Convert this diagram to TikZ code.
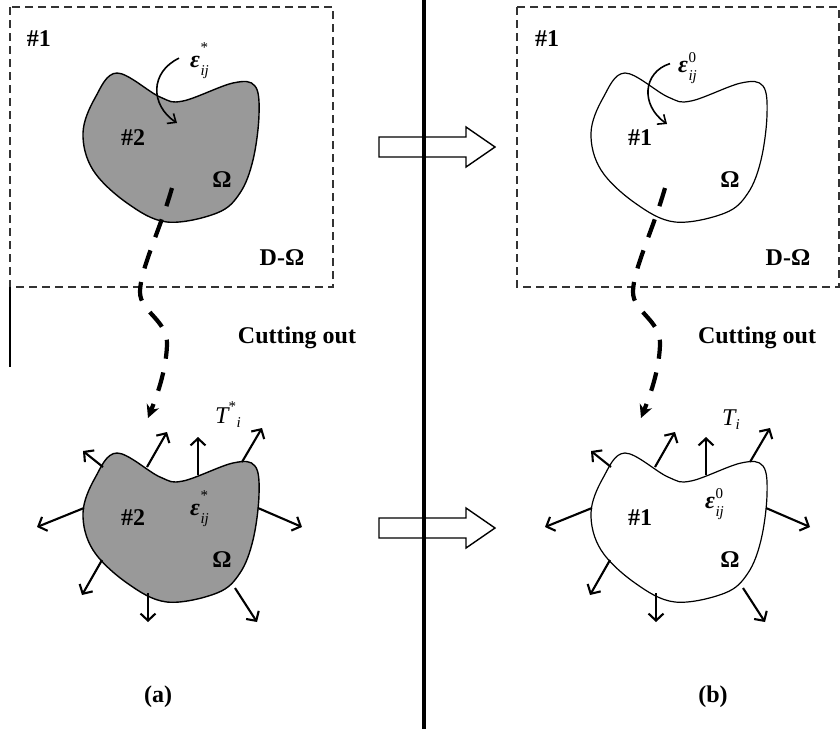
\documentclass[tikz,border=0pt]{standalone}
\usepackage{fontspec}
\setmainfont{Liberation Serif}
\usetikzlibrary{arrows.meta}

% strain symbol: bold italic epsilon with index ij and a raised mark
\newcommand\strain[2]{\textit{ε}\hspace{0.5pt}\rlap{\raisebox{#2}{\fontsize{15}{15}\selectfont\mdseries #1}}\raisebox{-8pt}{\fontsize{15}{15}\selectfont\mdseries\itshape ij}}

\tikzset{
  pics/blob/.style={code={
    \path[pic actions] plot[smooth cycle, tension=0.6] coordinates
      {(117,73) (160,97) (183,101) (233,83) (255,86) (259,115) (253,160)
       (240,193) (217,213) (167,222) (127,203) (93,170) (83,133) (95,98)};
  }}
}

\begin{document}
\begin{tikzpicture}[x=1pt,y=-1pt,
  every node/.style={inner sep=0pt, font=\fontsize{24}{28}\selectfont\bfseries},
  domainbox/.style={draw=black!80, line width=1.5pt, dash pattern=on 8pt off 5pt},
  inclusion/.style={draw=black, line width=1.4pt, fill=black!40},
  matrixregion/.style={draw=black, line width=1.2pt},
  cutpath/.style={line width=4.2pt, dash pattern=on 19pt off 14pt,
                  -{Stealth[length=13pt,width=13pt]}},
  traction/.style={line width=2.1pt, -{Straight Barb[length=7pt,width=15pt]}},
  eigenarrow/.style={line width=1.6pt, -{Straight Barb[length=7pt,width=12pt]}},
  bigarrow/.style={draw=black, line width=1.4pt, line join=miter},
  divider/.style={line width=3.4pt}
]
\useasboundingbox (0,0) rectangle (840,729);

% ---------- (a): inclusion with eigenstrain ----------
\draw[domainbox] (10,7) rectangle (333,287);
\draw[line width=1.3pt] (10,287) -- (10,367);
\pic[inclusion] at (0,0) {blob};
\node (a-m)   at (39,39)   {\#1};
\node (a-inc) at (133,138) {\#2};
\node (a-om)  at (222,180) {Ω};
\node (a-dom) at (282,258) {D-Ω};
\node[anchor=base west] (a-eps) at (190,67) {\strain{*}{15pt}};
\coordinate (a-epsin) at (177,123);
\draw[eigenarrow] (a-eps.west) ++(-11,-2) .. controls (150,72) and (150,105) .. (a-epsin);

% cut-out path
\coordinate (a-cut0) at (172,188);
\coordinate (a-cut1) at (148,418);
\draw[cutpath] (a-cut0) .. controls (160,230) and (140,270) .. (140,292)
  .. controls (140,312) and (168,320) .. (167,345)
  .. controls (166,372) and (156,398) .. (a-cut1);
\node (a-cut) at (297,338) {Cutting out};

% cut-out inclusion with tractions
\pic[inclusion] at (0,380) {blob};
\node (a-inc2) at (133,518) {\#2};
\node (a-om2)  at (222,560) {Ω};
\node[anchor=base west] (a-eps2) at (190,515) {\strain{*}{15pt}};
\node[anchor=base west] (a-T) at (215,423)
  {\mdseries\itshape T\rlap{\raisebox{12pt}{\fontsize{15}{15}\selectfont\upshape *}}\hspace{8pt}\raisebox{-4pt}{\fontsize{15}{15}\selectfont i}};
\node (a-lab) at (158,697) {(a)};

% ---------- (b): equivalent homogeneous domain ----------
\draw[domainbox] (517,7) rectangle (839,287);
\pic[matrixregion] at (508,0) {blob};
\node (b-m)   at (547,39)  {\#1};
\node (b-inc) at (640,138) {\#1};
\node (b-om)  at (730,180) {Ω};
\node (b-dom) at (788,258) {D-Ω};
\node[anchor=base west] (b-eps) at (678,72) {\strain{0}{10pt}};
\coordinate (b-epsin) at (667,124);
\draw[eigenarrow] (b-eps.west) ++(-8,-4) .. controls (643,72) and (640,105) .. (b-epsin);

\coordinate (b-cut0) at (665,188);
\coordinate (b-cut1) at (641,418);
\draw[cutpath] (b-cut0) .. controls (653,230) and (633,270) .. (633,292)
  .. controls (633,312) and (661,320) .. (660,345)
  .. controls (659,372) and (649,398) .. (b-cut1);
\node (b-cut) at (757,338) {Cutting out};

\pic[matrixregion] at (508,380) {blob};
\node (b-inc2) at (640,518) {\#1};
\node (b-om2)  at (730,560) {Ω};
\node[anchor=base west] (b-eps2) at (705,508) {\strain{0}{10pt}};
\node[anchor=base west] (b-T) at (722,425)
  {\mdseries\itshape T\raisebox{-4pt}{\fontsize{15}{15}\selectfont i}};
\node (b-lab) at (713,697) {(b)};

% surface tractions on both cut-out bodies
\foreach \side/\dx in {a/0,b/508}{
  \begin{scope}[shift={(\dx,0)}]
    \foreach \sx/\sy/\ex/\ey [count=\k] in
      {147/467/167/432, 198/475/198/437, 242/462/262/428,
       103/467/83/451,  84/508/37/527,   258/508/302/527,
       102/560/82/595,  148/593/148/622, 235/588/257/622}{
      \coordinate (\side-f\k-s) at (\sx,\sy);
      \coordinate (\side-f\k-e) at (\ex,\ey);
      \draw[traction] (\side-f\k-s) -- (\side-f\k-e);
    }
  \end{scope}
}

% hollow transition arrows
\draw[bigarrow] (379,137) -- (466,137) -- (466,127) -- (495,147)
  -- (466,167) -- (466,157) -- (379,157) -- cycle;
\draw[bigarrow] (379,518) -- (466,518) -- (466,508) -- (495,528)
  -- (466,548) -- (466,538) -- (379,538) -- cycle;

% dividing line
\draw[divider] (424,0) -- (424,729);
\end{tikzpicture}
\end{document}
